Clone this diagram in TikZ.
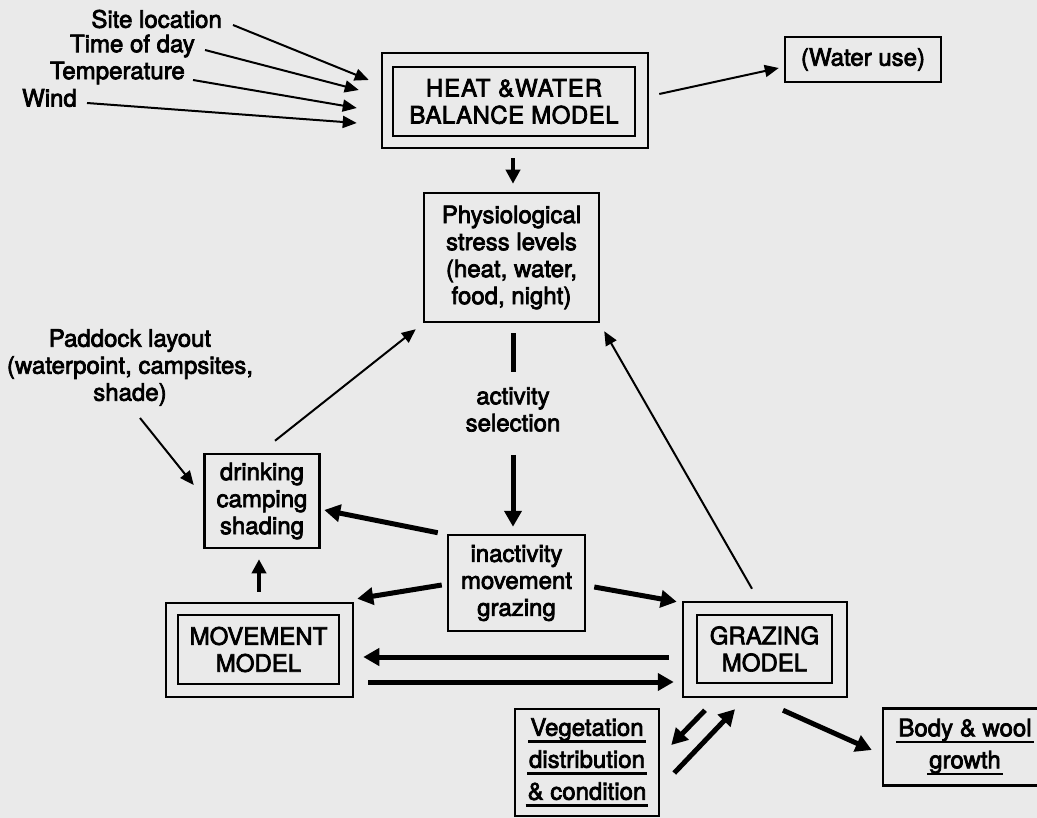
\documentclass[tikz,border=0pt]{standalone}
\usepackage{fontspec}
\setmainfont{TeX Gyre Heros}[UprightFeatures={FakeBold=3}]
\usetikzlibrary{arrows.meta,calc}
\definecolor{bgc}{RGB}{234,234,234}
\newcommand\myul[1]{\setbox0\hbox{#1}\rlap{\kern-2pt\raisebox{-7pt}{\rule{\dimexpr\wd0+4pt\relax}{2.5pt}}}\box0}
\tikzset{
  box/.style={draw, line width=2.5pt, inner sep=0pt, align=center, rectangle},
  lbl/.style={inner sep=0pt, align=center},
  ulfont/.style={font=\fontsize{24}{32}\selectfont},
  thinarr/.style={line width=2pt, -{Triangle[length=14pt,width=12pt]}},
  medarr/.style={line width=3.5pt, -{Triangle[length=14pt,width=14pt]}},
  thickarr/.style={line width=5pt, -{Triangle[length=16pt,width=17pt]}},
  thickline/.style={line width=5pt}
}
\begin{document}
\begin{tikzpicture}[x=1pt,y=-1pt,font=\fontsize{24}{27}\selectfont]
\fill[bgc] (0,0) rectangle (1037,818);
\useasboundingbox (0,0) rectangle (1037,818);

% boxes
\node[box, minimum width=266pt, minimum height=95pt] (heatO) at (515,100.5) {};
\node[box, minimum width=242pt, minimum height=69pt] (heat) at (514,101.5) {\addfontfeature{LetterSpace=4}HEAT \&WATER\\\addfontfeature{LetterSpace=2}BALANCE MODEL};
\node[box, minimum width=156pt, minimum height=45pt] (water) at (863,59.5) {(Water use)};
\node[box, minimum width=175pt, minimum height=129pt] (phys) at (511.5,257.5) {Physiological\\stress levels\\(heat, water,\\food, night)};
\node[lbl] (act) at (513,409.5) {activity\\selection};
\node[box, minimum width=137pt, minimum height=96pt] (inact) at (516.5,583) {inactivity\\movement\\grazing};
\node[box, minimum width=115pt, minimum height=94pt] (drink) at (262,501) {drinking\\camping\\shading};
\node[lbl] (pad) at (130,367.5) {Paddock layout\\(waterpoint, campsites,\\shade)};
\node[box, minimum width=187pt, minimum height=94pt] (moveO) at (259.5,650) {};
\node[box, minimum width=161pt, minimum height=69pt] (move) at (258.5,649.5) {MOVEMENT\\MODEL};
\node[box, minimum width=164pt, minimum height=95pt] (grazO) at (765,649.5) {};
\node[box, minimum width=135pt, minimum height=68pt] (graz) at (764.5,649) {GRAZING\\MODEL};
\node[box, ulfont, minimum width=144pt, minimum height=107pt] (veg) at (587,762.5) {\myul{Vegetation}\\\myul{distribution}\\\myul{\& condition}};
\node[box, ulfont, minimum width=164pt, minimum height=77pt] (body) at (965,747) {\myul{Body \& wool}\\\myul{growth}};

% input labels
\node[lbl, anchor=east] (site) at (222,19) {Site location};
\node[lbl, anchor=east] (tod) at (195,46) {Time of day};
\node[lbl, anchor=east] (temp) at (185,73) {Temperature};
\node[lbl, anchor=east] (wind) at (77,98) {Wind};

% inputs to heat model
\draw[thinarr] ($(site.east)+(11,6)$) -- ($(heatO.west)+(-12,-20.5)$);
\draw[thinarr] ($(tod.east)+(10,4)$) -- ($(heatO.west)+(-22,-10.5)$);
\draw[thinarr] ($(temp.east)+(8,7)$) -- ($(heatO.west)+(-24,7.5)$);
\draw[thinarr] ($(wind.east)+(10,5)$) -- ($(heatO.west)+(-24,22.5)$);

% heat model outputs
\draw[thinarr] ($(heatO.east)+(10,-6.5)$) -- ($(water.west)+(-5,8.5)$);
\draw[medarr] ($(heatO.south)+(-2,9)$) -- ($(phys.north)+(1.5,-8)$);

% activity selection
\draw[thickline] ($(phys.south)+(1.5,10)$) -- ($(act.center)+(0,-37.5)$);
\draw[thickarr] ($(act.center)+(0,45.5)$) -- ($(inact.north)+(-3.5,-7)$);

% from inactivity
\draw[thickarr] ($(inact.north west)+(-9,-1)$) -- ($(drink.east)+(3.5,9)$);
\draw[thickarr] ($(inact.west)+(-5,2)$) -- ($(moveO.north east)+(3,-3)$);
\draw[thickarr] ($(inact.east)+(8,4)$) -- ($(grazO.north west)+(-5,1)$);

% paddock and drinking
\draw[thinarr] ($(pad.center)+(10,50.5)$) -- ($(drink.west)+(-9.5,-16)$);
\draw[thinarr] ($(drink.north)+(13,-12)$) -- ($(phys.south west)+(-7,6)$);
\draw[medarr] ($(moveO.north)+(-0.5,-10)$) -- ($(drink.south)+(-3,10)$);

% movement <-> grazing
\draw[thickarr] ($(grazO.west)+(-13,7.5)$) -- ($(moveO.east)+(9,7)$);
\draw[thickarr] ($(moveO.east)+(14,32)$) -- ($(grazO.west)+(-8,32.5)$);

% grazing feedbacks
\draw[thinarr] ($(grazO.north)+(-13,-12)$) -- ($(phys.south east)+(4,8)$);
\draw[thickarr] ($(grazO.south)+(-60,12)$) -- ($(veg.east)+(11,-17.5)$);
\draw[thickarr] ($(veg.east)+(14,10.5)$) -- ($(grazO.south)+(-30,11)$);
\draw[thickarr] ($(grazO.south)+(18,12)$) -- ($(body.west)+(-10,3)$);
\end{tikzpicture}
\end{document}
